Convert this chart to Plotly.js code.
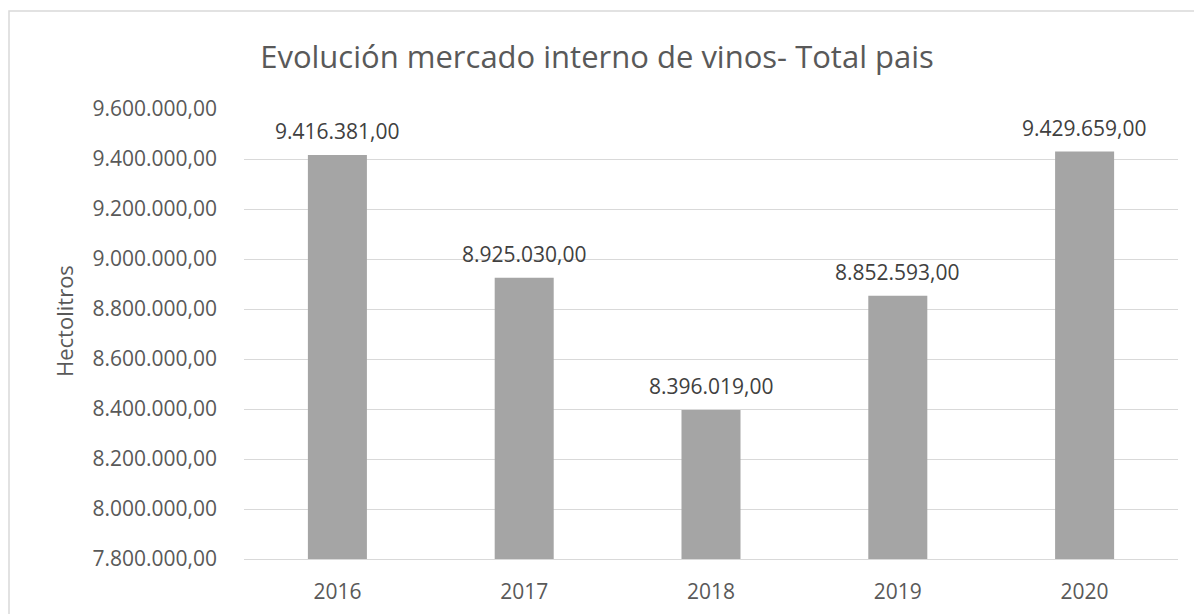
<!DOCTYPE html>
<html>
<head>
<meta charset="utf-8">
<script src="https://cdn.plot.ly/plotly-3.0.1.min.js"></script>
<style>
html,body{margin:0;padding:0;background:#fff;}
#chart{width:1194px;height:614px;}
</style>
</head>
<body>
<div id="chart"></div>
<script>
const years = ["2016", "2017", "2018", "2019", "2020"];
const hectolitros = [9416381, 8925030, 8396019, 8852593, 9429659];
const chartTitle = "Evolución mercado interno de vinos- Total pais";
const yTitle = "Hectolitros";

const FONT = "Open Sans, Liberation Sans, sans-serif";
const TXT = "#595959";

const xs = years.map((_, i) => i);

const fmt = v => {
  const parts = v.toFixed(2).split(".");
  return parts[0].replace(/\B(?=(\d{3})+(?!\d))/g, ".") + "," + parts[1];
};

const trace = {
  type: "bar",
  x: xs,
  y: hectolitros,
  width: 0.316,
  marker: {color: "#a5a5a5", line: {width: 0}},
  hoverinfo: "skip"
};

const layout = {
  width: 1194, height: 614,
  paper_bgcolor: "#fff", plot_bgcolor: "#fff",
  separators: ",.",
  margin: {l: 244, r: 16, t: 109, b: 55},
  showlegend: false,
  title: {text: chartTitle, x: 0.5, xref: "container", xanchor: "center", y: 0.907, yanchor: "middle",
          font: {family: FONT, size: 31, color: TXT}},
  xaxis: {range: [-0.5, 4.5], tickvals: xs, ticktext: years, showgrid: false,
          zeroline: false, showline: true, linecolor: "#d9d9d9", linewidth: 1, ticks: "",
          ticklabelstandoff: 14,
          tickfont: {family: FONT, size: 21, color: TXT}},
  yaxis: {range: [7800000, 9600000], dtick: 200000, tick0: 7800000,
          tickformat: ",.2f", showgrid: true, gridcolor: "#d9d9d9", gridwidth: 1,
          zeroline: false, showline: false, ticks: "",
          ticklabelstandoff: 26, automargin: true,
          tickfont: {family: FONT, size: 21, color: TXT}},
  annotations: xs.map(i => ({
    x: i, y: hectolitros[i], xref: "x", yref: "y",
    text: fmt(hectolitros[i]),
    showarrow: false, yanchor: "bottom", yshift: 8,
    font: {family: FONT, size: 21, color: "#404040"}
  })).concat([{
    text: yTitle, xref: "paper", yref: "paper", x: (64 - 244) / 934, y: (559 - 321) / 450,
    xanchor: "center", yanchor: "middle", textangle: -90, showarrow: false,
    font: {family: FONT, size: 22, color: TXT}
  }]),
  shapes: [{type: "rect", xref: "paper", yref: "paper",
            x0: (9 - 244) / 934, x1: 1.1, y0: -0.2, y1: (559 - 11) / 450,
            line: {color: "#d9d9d9", width: 1.5}, fillcolor: "rgba(0,0,0,0)", layer: "below"}]
};

Plotly.newPlot("chart", [trace], layout, {displayModeBar: false, staticPlot: true});
</script>
</body>
</html>
